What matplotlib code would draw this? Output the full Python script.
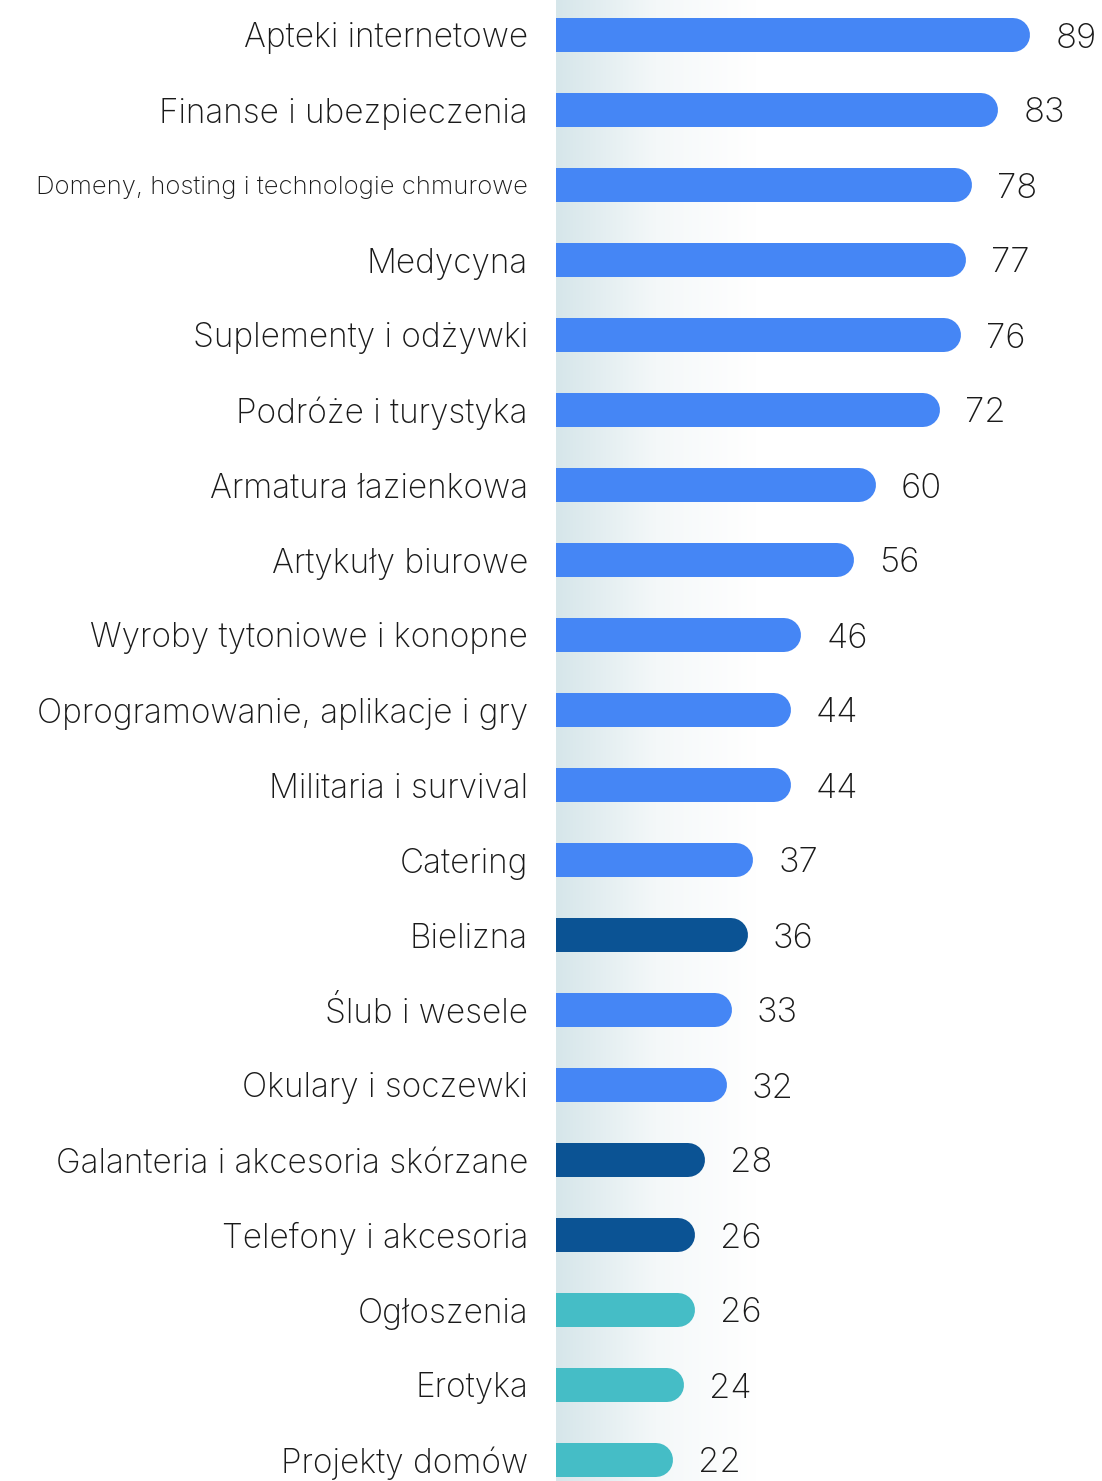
import numpy as np
import matplotlib.pyplot as plt
from matplotlib.colors import LinearSegmentedColormap

categories = ['Apteki internetowe', 'Finanse i ubezpieczenia',
              'Domeny, hosting i technologie chmurowe', 'Medycyna',
              'Suplementy i odżywki', 'Podróże i turystyka',
              'Armatura łazienkowa', 'Artykuły biurowe',
              'Wyroby tytoniowe i konopne', 'Oprogramowanie, aplikacje i gry',
              'Militaria i survival', 'Catering', 'Bielizna',
              'Ślub i wesele', 'Okulary i soczewki',
              'Galanteria i akcesoria skórzane', 'Telefony i akcesoria',
              'Ogłoszenia', 'Erotyka', 'Projekty domów']
values = [89, 83, 78, 77, 76, 72, 60, 56, 46, 44, 44, 37, 36, 33, 32, 28, 26, 26, 24, 22]
groups = ['a'] * 12 + ['b', 'a', 'a', 'b', 'b', 'c', 'c', 'c']

colors = {'a': '#4586f5', 'b': '#0b5394', 'c': '#45bdc6'}

plt.rcParams['font.family'] = ['Inter', 'DejaVu Sans']

W, H = 1102, 1481
fig = plt.figure(figsize=(W / 100, H / 100), dpi=100)
left = 556
ax = fig.add_axes([left / W, 0, 1 - left / W, 1])

px_per_unit = 5.33
step = 75.0
first = 35.0
ax.set_xlim(0, (W - left) / px_per_unit)
ax.set_ylim((H - first) / step, -first / step)

# background gradient behind bars
grad = LinearSegmentedColormap.from_list('g', ['#d6e6ea', '#f4f8f9', '#ffffff'])
ax.imshow(np.linspace(0, 1, 256).reshape(1, -1), cmap=grad, aspect='auto',
          extent=[0, 200 / px_per_unit, (H - first) / step, -first / step],
          zorder=0)

bar_px = 34
r = bar_px / 2 / px_per_unit
ypos = np.arange(len(categories))
for y, v, g in zip(ypos, values, groups):
    ax.plot([-5, v - r], [y, y], color=colors[g], lw=bar_px * 0.72,
            solid_capstyle='round', zorder=2)
    ax.annotate(str(v), (v, y), xytext=(25 * 0.72, 0), textcoords='offset points',
                ha='left', va='center_baseline', fontsize=25, color='#1a1a1a',
                fontweight='light', annotation_clip=False)

ax.set_yticks(ypos)
ax.set_yticklabels(categories, fontsize=24, color='#1a1a1a', fontweight='light',
                   va='center_baseline')
for lab in ax.get_yticklabels():
    if lab.get_text().startswith('Domeny'):
        lab.set_fontsize(18.5)
ax.tick_params(axis='y', length=0, pad=28 * 0.72)
ax.set_xticks([])
for s in ax.spines.values():
    s.set_visible(False)

fig.savefig('out.png', dpi=100)
